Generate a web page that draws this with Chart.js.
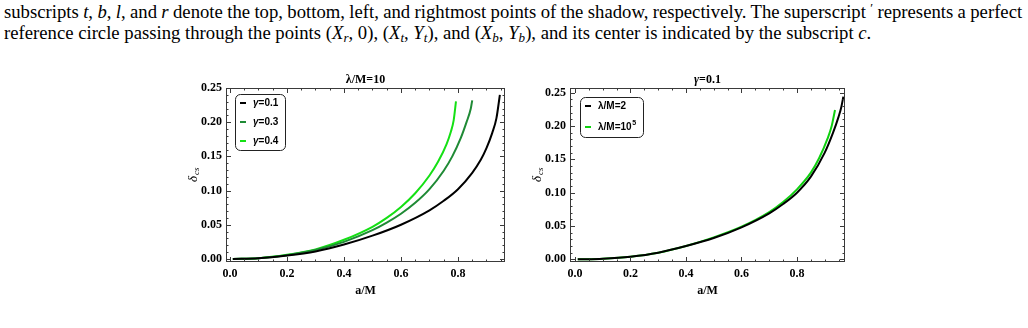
<!DOCTYPE html>
<html>
<head>
<meta charset="utf-8">
<script src="https://cdn.jsdelivr.net/npm/chart.js@4.4.1/dist/chart.umd.min.js"></script>
<style>
  body { margin: 0; background: #fff; width: 1028px; height: 328px; overflow: hidden; position: relative; }
  .txt { position: absolute; left: 4px; font-family: "Liberation Serif", "Times New Roman", serif; font-size: 18.7px; line-height: 21px; color: #000; white-space: nowrap; }
  #line1 { top: 1px; }
  #line2 { top: 22px; }
  .txt sub { font-size: 0.7em; vertical-align: -0.25em; line-height: 0; }
  .txt sup { font-size: 0.7em; vertical-align: 0.45em; line-height: 0; }
  canvas { position: absolute; }
  #leftChart { left: 180px; top: 70px; }
  #rightChart { left: 520px; top: 70px; }
</style>
</head>
<body>
<div class="txt" id="line1">subscripts <i>t</i>, <i>b</i>, <i>l</i>, and <i>r</i> denote the top, bottom, left, and rightmost points of the shadow, respectively. The superscript <sup>′</sup> represents a perfect</div>
<div class="txt" id="line2">reference circle passing through the points (<i>X<sub>r</sub></i>, 0), (<i>X<sub>t</sub></i>, <i>Y<sub>t</sub></i>), and (<i>X<sub>b</sub></i>, <i>Y<sub>b</sub></i>), and its center is indicated by the subscript <i>c</i>.</div>
<canvas id="leftChart" width="340" height="235"></canvas>
<canvas id="rightChart" width="340" height="235"></canvas>
<script>
// ---- data ----
// left panel, lambda/M = 10
var aG01 = [0.01, 0.1, 0.2, 0.3, 0.4, 0.5, 0.6, 0.7, 0.75, 0.8, 0.85, 0.88, 0.9, 0.92, 0.935, 0.947];
var dG01 = [0, 0.001, 0.005, 0.011, 0.021, 0.034, 0.050, 0.071, 0.085, 0.102, 0.126, 0.145, 0.162, 0.184, 0.206, 0.240];
var aG03 = [0.01, 0.1, 0.2, 0.3, 0.4, 0.5, 0.55, 0.6, 0.65, 0.7, 0.75, 0.78, 0.81, 0.83, 0.845, 0.85];
var dG03 = [0, 0.001, 0.0055, 0.013, 0.025, 0.042, 0.053, 0.066, 0.082, 0.102, 0.129, 0.150, 0.177, 0.200, 0.220, 0.232];
var aG04 = [0.01, 0.1, 0.2, 0.3, 0.4, 0.5, 0.55, 0.6, 0.65, 0.7, 0.73, 0.76, 0.775, 0.785, 0.793];
var dG04 = [0, 0.001, 0.006, 0.014, 0.028, 0.047, 0.060, 0.076, 0.096, 0.122, 0.142, 0.168, 0.186, 0.203, 0.2305];
// right panel, gamma = 0.1
var aL2 = [0.01, 0.1, 0.2, 0.3, 0.4, 0.5, 0.6, 0.7, 0.75, 0.8, 0.85, 0.9, 0.93, 0.95, 0.96, 0.967];
var dL2 = [0, 0.001, 0.004, 0.010, 0.020, 0.032, 0.048, 0.069, 0.083, 0.100, 0.124, 0.160, 0.190, 0.214, 0.229, 0.244];
var aL1e5 = [0.01, 0.1, 0.2, 0.3, 0.4, 0.5, 0.6, 0.7, 0.75, 0.8, 0.85, 0.88, 0.91, 0.925, 0.937];
var dL1e5 = [0, 0.001, 0.004, 0.010, 0.020, 0.033, 0.049, 0.071, 0.086, 0.105, 0.130, 0.152, 0.181, 0.200, 0.224];

var xTicks = [0, 0.2, 0.4, 0.6, 0.8];
var yTicks = [0, 0.05, 0.10, 0.15, 0.20, 0.25];

var serif = '"Liberation Serif", "Times New Roman", serif';
var sans = '"Liberation Sans", Arial, sans-serif';

// stretch the first text line to the full column width
var l1 = document.getElementById('line1');
var gaps = l1.textContent.split(' ').length - 1;
l1.style.wordSpacing = ((1018 - l1.scrollWidth) / gaps) + 'px';

var pts = function(xs, ys) {
  return xs.map(function(v, i) { return {x: v, y: ys[i]}; });
};

var series = function(label, xs, ys, color) {
  return {
    label: label,
    data: pts(xs, ys),
    borderColor: color,
    backgroundColor: color,
    borderWidth: 2,
    pointRadius: 0,
    cubicInterpolationMode: 'monotone',
    fill: false
  };
};

// draws a label: leading greek gamma in italic, "^" starts a superscript
var drawMixed = function(ctx, text, x, y, size, family, align) {
  var head = '', rest = text, sup = '';
  if (text[0] === 'γ') { head = 'γ'; rest = text.slice(1); }
  if (rest.indexOf('^') >= 0) { sup = rest.split('^')[1]; rest = rest.split('^')[0]; }
  var ss = Math.round(size * 0.7);
  ctx.font = 'italic bold ' + size + 'px ' + family;
  var hw = ctx.measureText(head).width;
  ctx.font = 'bold ' + size + 'px ' + family;
  var rw = ctx.measureText(rest).width;
  ctx.font = 'bold ' + ss + 'px ' + family;
  var sw = ctx.measureText(sup).width;
  var x0 = align === 'center' ? x - (hw + rw + sw) / 2 : x;
  ctx.textAlign = 'left';
  ctx.font = 'italic bold ' + size + 'px ' + family;
  ctx.fillText(head, x0, y);
  ctx.font = 'bold ' + size + 'px ' + family;
  ctx.fillText(rest, x0 + hw, y);
  ctx.font = 'bold ' + ss + 'px ' + family;
  ctx.fillText(sup, x0 + hw + rw + 0.5, y - size * 0.35);
};

// frame, inward ticks, title, axis labels and legend box
var decor = {
  id: 'decor',
  afterDraw: function(chart, args, opts) {
    var ctx = chart.ctx, ca = chart.chartArea;
    var xs = chart.scales.x, ys = chart.scales.y;
    ctx.save();
    ctx.strokeStyle = '#3a3a3a';
    ctx.lineWidth = 1;
    ctx.strokeRect(ca.left + 0.5, ca.top + 0.5, ca.width - 1, ca.height - 1);

    ctx.beginPath();
    var i, v, p, len;
    for (i = 0; i <= 19; i++) {
      v = Math.round(i * 5) / 100;
      if (v < xs.min || v > xs.max) continue;
      p = Math.round(xs.getPixelForValue(v)) + 0.5;
      len = (i % 4 === 0) ? 5 : 2.5;
      ctx.moveTo(p, ca.bottom); ctx.lineTo(p, ca.bottom - len);
      ctx.moveTo(p, ca.top); ctx.lineTo(p, ca.top + len);
    }
    for (i = 0; i <= 26; i++) {
      v = i / 100;
      if (v < ys.min || v > ys.max) continue;
      p = Math.round(ys.getPixelForValue(v)) + 0.5;
      len = (i % 5 === 0) ? 5 : 2.5;
      ctx.moveTo(ca.left, p); ctx.lineTo(ca.left + len, p);
      ctx.moveTo(ca.right, p); ctx.lineTo(ca.right - len, p);
    }
    ctx.stroke();

    ctx.fillStyle = '#000';
    ctx.textBaseline = 'middle';
    var cx = (ca.left + ca.right) / 2;
    drawMixed(ctx, opts.title, cx, ca.top - 8, 12, serif, 'center');
    drawMixed(ctx, 'a/M', cx, ca.bottom + 29, 12, serif, 'center');

    // y axis title: delta with subscript cs
    ctx.save();
    ctx.translate(ca.left - 32, (ca.top + ca.bottom) / 2);
    ctx.rotate(-Math.PI / 2);
    ctx.textAlign = 'left';
    ctx.font = 'italic 13px ' + serif;
    ctx.fillText('δ', -7, 0);
    ctx.font = 'italic 9px ' + serif;
    ctx.fillText('cs', 0, 3);
    ctx.restore();

    // legend box
    var lg = opts.legend;
    var bx = ca.left + lg.dx, by = ca.top + lg.dy;
    ctx.beginPath();
    ctx.roundRect(bx + 0.5, by + 0.5, lg.w, lg.h, 5);
    ctx.strokeStyle = '#222';
    ctx.stroke();
    chart.data.datasets.forEach(function(ds, k) {
      var ry = by + lg.first + k * lg.step;
      ctx.beginPath();
      ctx.strokeStyle = ds.borderColor;
      ctx.lineWidth = 2;
      ctx.moveTo(bx + 5, ry); ctx.lineTo(bx + 11, ry);
      ctx.stroke();
      ctx.fillStyle = '#000';
      drawMixed(ctx, ds.label, bx + 18, ry, 10, sans, 'left');
    });
    ctx.restore();
  }
};

var makeChart = function(id, datasets, yMin, yMax, xMin, xMax, axisW, title, legend) {
  return new Chart(document.getElementById(id), {
    type: 'line',
    data: { datasets: datasets },
    plugins: [decor],
    options: {
      responsive: false,
      animation: false,
      devicePixelRatio: 1,
      layout: { padding: { top: 18, right: 15, left: 0, bottom: 0 } },
      plugins: {
        legend: { display: false },
        tooltip: { enabled: false },
        decor: { title: title, legend: legend }
      },
      scales: {
        x: {
          type: 'linear',
          min: xMin,
          max: xMax,
          grid: { display: false, drawTicks: false },
          border: { display: false },
          afterBuildTicks: function(s) { s.ticks = xTicks.map(function(v) { return {value: v}; }); },
          afterFit: function(s) { s.height = 43; },
          ticks: {
            padding: 5,
            color: '#000',
            font: { family: serif, size: 12, weight: 'bold' },
            callback: function(v) { return v.toFixed(1); }
          }
        },
        y: {
          type: 'linear',
          min: yMin,
          max: yMax,
          grid: { display: false, drawTicks: false },
          border: { display: false },
          afterBuildTicks: function(s) { s.ticks = yTicks.map(function(v) { return {value: v}; }); },
          afterFit: function(s) { s.width = axisW; },
          ticks: {
            padding: 4,
            color: '#000',
            font: { family: serif, size: 12, weight: 'bold' },
            callback: function(v) { return v.toFixed(2); }
          }
        }
      }
    }
  });
};

makeChart('leftChart', [
  series('γ=0.1', aG01, dG01, '#000000'),
  series('γ=0.3', aG03, dG03, '#1f8a35'),
  series('γ=0.4', aG04, dG04, '#14e014')
], -0.0045, 0.25, -0.014, 0.965, 46, 'λ/M=10', {dx: 9, dy: 6, w: 50, h: 56, first: 9, step: 19});

makeChart('rightChart', [
  series('λ/M=2', aL2, dL2, '#000000'),
  series('λ/M=10^5', aL1e5, dL1e5, '#10d010')
], -0.004, 0.257, -0.018, 0.973, 50, 'γ=0.1', {dx: 10, dy: 9, w: 63, h: 40, first: 9, step: 21});
</script>
</body>
</html>
